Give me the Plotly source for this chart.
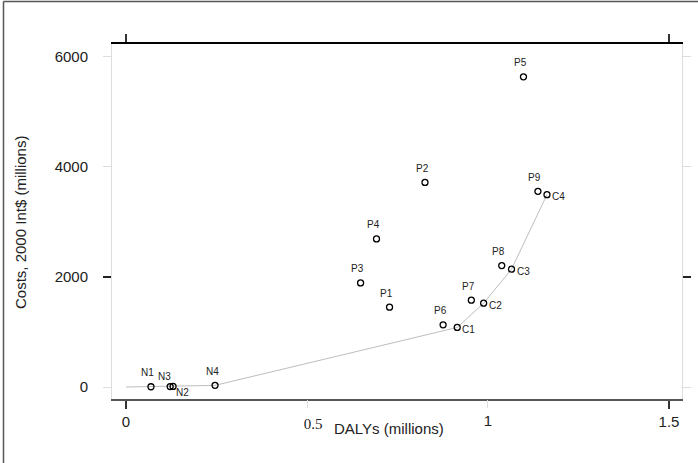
import plotly.graph_objects as go

# Interventions: health gain (DALYs averted, millions) vs cost (2000 Int$, millions)
names = ["N1", "N2", "N3", "N4",
         "P1", "P2", "P3", "P4", "P5", "P6", "P7", "P8", "P9",
         "C1", "C2", "C3", "C4"]
dalys = [0.069, 0.130, 0.122, 0.246,
         0.728, 0.826, 0.648, 0.692, 1.098, 0.876, 0.954, 1.038, 1.138,
         0.915, 0.988, 1.065, 1.163]
costs = [5, 10, 8, 30,
         1452, 3720, 1893, 2692, 5639, 1131, 1579, 2208, 3557,
         1083, 1524, 2142, 3497]

# Clock position of each point label (12 = above, 3 = right, 4 = lower right, 11 = upper left)
label_pos = ["12", "4", "11", "12",
             "12", "12", "12", "12", "12", "12", "12", "12", "12",
             "3", "3", "3", "3"]

# Expansion path: starts at the origin (no intervention) and joins the dominant options
path_names = ["N1", "N3", "N2", "N4", "C1", "C2", "C3", "C4"]
origin = (0.0, 0.0)

x_ticks = [0, 0.5, 1, 1.5]
y_ticks = [0, 2000, 4000, 6000]

lookup = {n: (d, c) for n, d, c in zip(names, dalys, costs)}
path_x = [origin[0]] + [lookup[n][0] for n in path_names]
path_y = [origin[1]] + [lookup[n][1] for n in path_names]

SANS = "Liberation Sans, Arial, sans-serif"
SERIF = "Liberation Serif, Times New Roman, serif"
X_RANGE = [-0.0387, 1.536]
Y_RANGE = [-218, 6236]
DARK = "#222222"
FAINT = "#dddddd"

fig = go.Figure()
fig.add_trace(go.Scatter(
    x=path_x, y=path_y, mode="lines",
    line=dict(color="#bdbdbd", width=1), hoverinfo="skip", showlegend=False))
fig.add_trace(go.Scatter(
    x=dalys, y=costs, mode="markers",
    marker=dict(symbol="circle-open", size=6, color="black", line=dict(width=1.3)),
    showlegend=False))

# Empty traces so that the overlaid tick axes get drawn
for xa, ya in [("x2", "y"), ("x3", "y"), ("x4", "y"), ("x", "y2"), ("x", "y3"), ("x", "y4")]:
    fig.add_trace(go.Scatter(x=[None], y=[None], xaxis=xa, yaxis=ya, mode="markers",
                             hoverinfo="skip", showlegend=False))

offsets = {
    "12": dict(xshift=-3, yshift=14, xanchor="center"),
    "11": dict(xshift=-6, yshift=10, xanchor="center"),
    "4": dict(xshift=9, yshift=-6, xanchor="center"),
    "3": dict(xshift=3, yshift=-2, xanchor="left"),
}
for n, d, c, p in zip(names, dalys, costs, label_pos):
    fig.add_annotation(x=d, y=c, xref="x", yref="y", text=n, showarrow=False,
                       yanchor="middle", font=dict(family=SANS, size=10, color="#222"),
                       **offsets[p])

common = dict(range=X_RANGE, showgrid=False, zeroline=False, fixedrange=True,
              automargin=False)
ycommon = dict(range=Y_RANGE, showgrid=False, zeroline=False, fixedrange=True,
               automargin=False)

fig.update_layout(
    width=698, height=463,
    margin=dict(l=112, r=16, t=44, b=64, autoexpand=False),
    paper_bgcolor="white", plot_bgcolor="white",
    xaxis=dict(**common, side="bottom", anchor="y",
               showline=True, linecolor="#555555", linewidth=2,
               tickmode="array", tickvals=[x_ticks[0], x_ticks[3]],
               ticktext=["0", "1.5"],
               ticks="outside", ticklen=8, tickwidth=2, tickcolor="#333333",
               tickfont=dict(family=SANS, size=15, color=DARK)),
    xaxis2=dict(**common, overlaying="x", side="bottom", anchor="y",
                tickmode="array", tickvals=[x_ticks[1], x_ticks[2]],
                ticktext=["", "1"],
                ticks="outside", ticklen=8, tickwidth=1, tickcolor=FAINT,
                tickfont=dict(family=SANS, size=15, color=DARK)),
    xaxis3=dict(**common, overlaying="x", side="bottom", anchor="y",
                tickmode="array", tickvals=[x_ticks[1]], ticktext=["0.5"],
                ticks="", ticklabelstandoff=14, ticklabelshift=6,
                tickfont=dict(family=SERIF, size=15, color=DARK)),
    xaxis4=dict(**common, overlaying="x", side="top", anchor="y",
                showline=True, linecolor="black", linewidth=2,
                tickmode="array", tickvals=[x_ticks[0], x_ticks[3]],
                ticks="outside", ticklen=8, tickwidth=2, tickcolor="#333333",
                showticklabels=False),
    yaxis=dict(**ycommon, side="left", anchor="x",
               showline=True, linecolor=FAINT, linewidth=1,
               tickmode="array", tickvals=y_ticks,
               ticks="outside", ticklen=8, tickwidth=1, tickcolor=FAINT,
               ticklabelstandoff=12,
               tickfont=dict(family=SANS, size=15, color=DARK)),
    yaxis2=dict(**ycommon, overlaying="y", side="left", anchor="x",
                tickmode="array", tickvals=[y_ticks[1]],
                ticks="outside", ticklen=8, tickwidth=1.5, tickcolor=DARK,
                showticklabels=False),
    yaxis3=dict(**ycommon, overlaying="y", side="right", anchor="x",
                showline=True, linecolor=FAINT, linewidth=1,
                tickmode="array", tickvals=[y_ticks[0], y_ticks[2], y_ticks[3]],
                ticks="outside", ticklen=8, tickwidth=1, tickcolor=FAINT,
                showticklabels=False),
    yaxis4=dict(**ycommon, overlaying="y", side="right", anchor="x",
                tickmode="array", tickvals=[y_ticks[1]],
                ticks="outside", ticklen=8, tickwidth=1.5, tickcolor=DARK,
                showticklabels=False),
    showlegend=False,
)

# Axis titles
fig.add_annotation(text="DALYs (millions)", xref="paper", yref="paper",
                   x=(389 - 112) / 570, y=-30 / 355, xanchor="center", yanchor="middle",
                   showarrow=False, font=dict(family=SANS, size=15, color=DARK))
fig.add_annotation(text="Costs, 2000 Int$ (millions)", xref="paper", yref="paper",
                   x=(20 - 112) / 570, y=(399 - 223) / 355, xanchor="center", yanchor="middle",
                   textangle=-90, showarrow=False,
                   font=dict(family=SANS, size=15, color=DARK))

# Outer frame around the graph region
fig.add_shape(type="line", xref="paper", yref="paper",
              x0=(3.5 - 112) / 570, x1=(3.5 - 112) / 570,
              y0=(399 - 470) / 355, y1=(399 - 1.5) / 355,
              line=dict(color="#555555", width=1.5))
fig.add_shape(type="line", xref="paper", yref="paper",
              x0=(3.5 - 112) / 570, x1=(710 - 112) / 570,
              y0=(399 - 1.5) / 355, y1=(399 - 1.5) / 355,
              line=dict(color="#555555", width=1.5))

fig.write_html("out.html")
